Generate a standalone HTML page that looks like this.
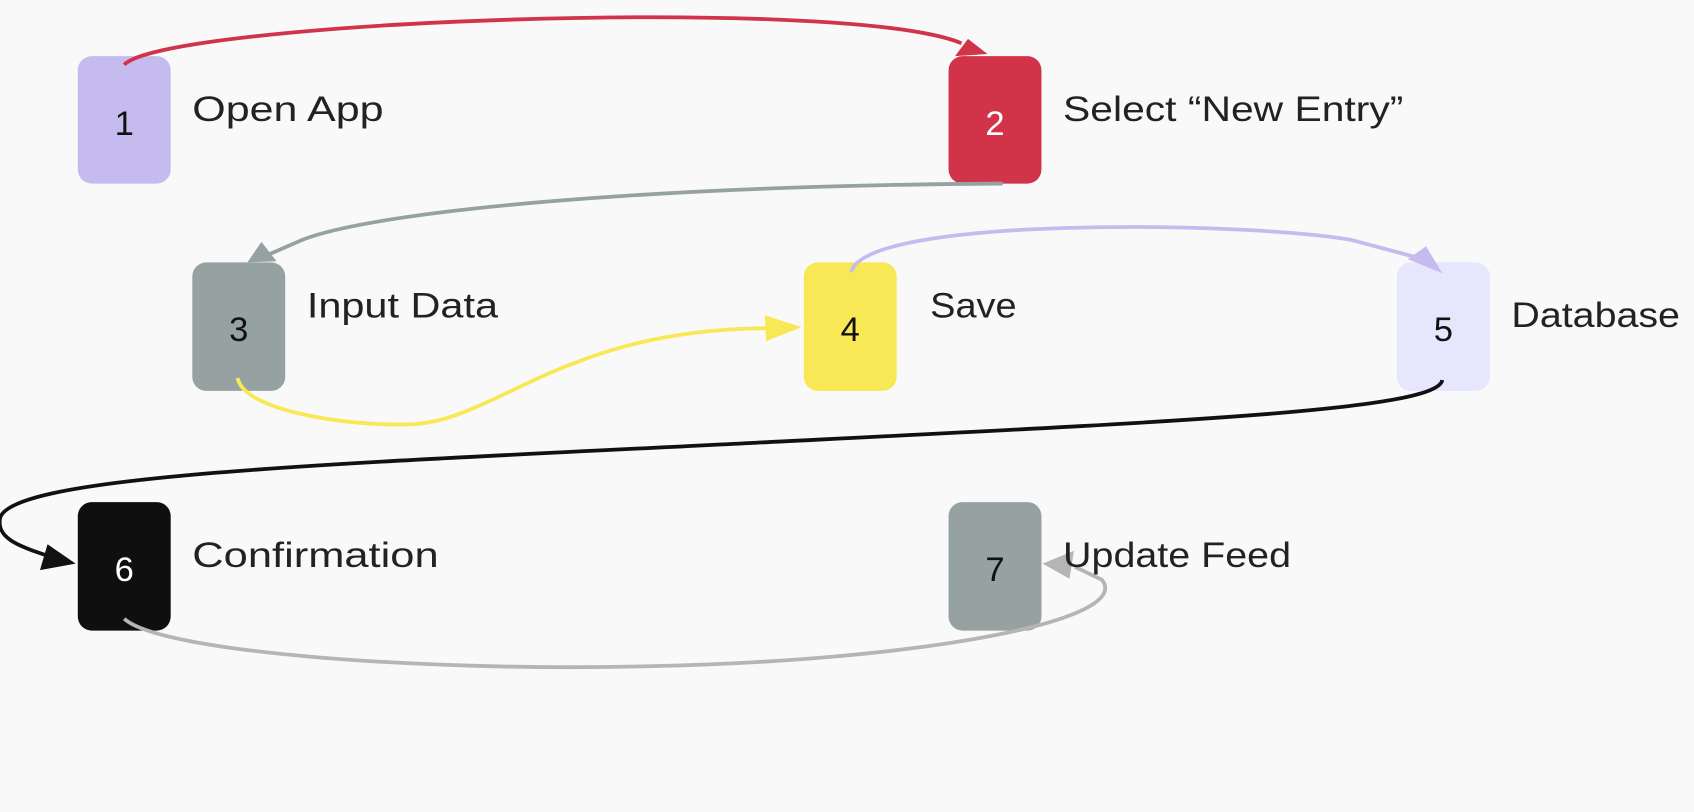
<!DOCTYPE html>
<html><head><meta charset="utf-8"><style>
html,body{margin:0;padding:0;background:#f9f9f9;}
svg{display:block;}
text{font-family:"Liberation Sans",sans-serif;}
.l{font-size:33px;fill:#222;}
.n{font-size:32px;text-anchor:middle;}
</style></head><body>
<svg width="1694" height="812" viewBox="0 0 1568 752" preserveAspectRatio="none">
<rect width="1568" height="752" fill="#f9f9f9"/>
<!-- nodes -->
<rect x="72" y="52" width="86" height="118" rx="13" fill="#c5bbee"/>
<rect x="878" y="52" width="86" height="118" rx="13" fill="#d13349"/>
<rect x="178" y="243" width="86" height="119" rx="13" fill="#96a2a1"/>
<rect x="744" y="243" width="86" height="119" rx="13" fill="#f9e856"/>
<rect x="1293" y="243" width="86" height="119" rx="13" fill="#e6e6fc"/>
<rect x="72" y="465" width="86" height="119" rx="13" fill="#0f0f0f"/>
<rect x="878" y="465" width="86" height="119" rx="13" fill="#96a2a1"/>
<!-- edges -->
<path d="M115,60 C150,20 780,-5 890,40" fill="none" stroke="#d13349" stroke-width="3.5"/>
<path d="M884,52 L914,50 L896,36z" fill="#d13349"/>
<path d="M928,170 C600,172 350,195 280,222 L248,236" fill="none" stroke="#96a2a1" stroke-width="3.5"/>
<path d="M229,243 L256,242 L242,224z" fill="#96a2a1"/>
<path d="M788,252 C800,200 1150,205 1250,222 L1310,238" fill="none" stroke="#c5bbee" stroke-width="3.5"/>
<path d="M1303,240 L1335,253 L1320,228z" fill="#c5bbee"/>
<path d="M220,350 C225,380 320,395 380,393 C460,390 520,305 710,304" fill="none" stroke="#f9e856" stroke-width="3.5"/>
<path d="M708,292 L742,303 L709,316z" fill="#f9e856"/>
<path d="M1335,352 C1330,380 1100,390 700,410 C300,430 10,440 0,480 C-3,498 15,505 45,515" fill="none" stroke="#111" stroke-width="3.5"/>
<path d="M37,528 L70,522 L44,504z" fill="#111"/>
<path d="M115,573 C150,605 400,622 600,617 C850,612 1050,575 1020,537 L995,525" fill="none" stroke="#b5b5b5" stroke-width="3.5"/>
<path d="M965,522 L994,510 L990,536z" fill="#b5b5b5"/>
<!-- numbers -->
<text class="n" x="115" y="125" fill="#111">1</text>
<text class="n" x="921" y="125" fill="#fff">2</text>
<text class="n" x="221" y="316" fill="#111">3</text>
<text class="n" x="787" y="316" fill="#111">4</text>
<text class="n" x="1336" y="316" fill="#111">5</text>
<text class="n" x="115" y="538" fill="#fff">6</text>
<text class="n" x="921" y="538" fill="#111">7</text>
<!-- labels -->
<text class="l" x="178" y="112" textLength="177" lengthAdjust="spacingAndGlyphs">Open App</text>
<text class="l" x="984" y="112" textLength="315" lengthAdjust="spacingAndGlyphs">Select “New Entry”</text>
<text class="l" x="284" y="294" textLength="177" lengthAdjust="spacingAndGlyphs">Input Data</text>
<text class="l" x="861" y="294" textLength="80" lengthAdjust="spacingAndGlyphs">Save</text>
<text class="l" x="1399" y="303" textLength="156" lengthAdjust="spacingAndGlyphs">Database</text>
<text class="l" x="178" y="525" textLength="228" lengthAdjust="spacingAndGlyphs">Confirmation</text>
<text class="l" x="984" y="525" textLength="211" lengthAdjust="spacingAndGlyphs">Update Feed</text>
</svg>
</body></html>
